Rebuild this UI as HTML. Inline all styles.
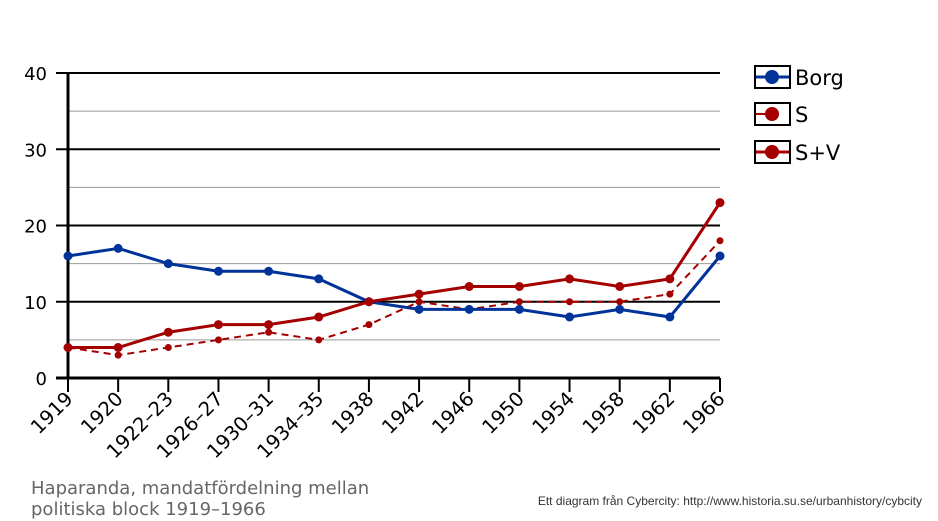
<!DOCTYPE html>
<html><head><meta charset="utf-8"><style>
body{margin:0;background:#fff;}
svg{display:block;font-family:"DejaVu Sans","Liberation Sans",sans-serif;}
</style></head><body>
<svg id="s" width="938" height="521" xmlns="http://www.w3.org/2000/svg"></svg>
<script>
const s=document.getElementById('s');
const x0=68,dx=(720-68)/13,y0=378,k=7.625;
const X=i=>x0+i*dx,Y=v=>y0-v*k;
let h='';
for(const v of [5,15,25,35]) h+=`<line x1="68" x2="720" y1="${Y(v)}" y2="${Y(v)}" stroke="#999" stroke-width="1"/>`;
for(const v of [10,20,30,40]) h+=`<line x1="56" x2="720" y1="${Y(v)}" y2="${Y(v)}" stroke="#000" stroke-width="2"/>`;
h+=`<line x1="56" x2="720" y1="${y0}" y2="${y0}" stroke="#000" stroke-width="3"/>`;
h+=`<line x1="68" x2="68" y1="73" y2="378" stroke="#000" stroke-width="3"/>`;
for(const v of [0,10,20,30,40]) h+=`<text x="47" y="${Y(v)+7}" font-size="18" text-anchor="end">${v}</text>`;
const lab=['1919','1920','1922–23','1926–27','1930–31','1934–35','1938','1942','1946','1950','1954','1958','1962','1966'];
lab.forEach((l,i)=>{const x=X(i);h+=`<line x1="${x}" x2="${x}" y1="378" y2="392" stroke="#000" stroke-width="2"/>`;
h+=`<text transform="translate(${x+6},${400}) rotate(-45)" font-size="19.5" text-anchor="end">${l}</text>`;});
const borg=[16,17,15,14,14,13,10,9,9,9,8,9,8,16],S=[4,3,4,5,6,5,7,10,9,10,10,10,11,18],SV=[4,4,6,7,7,8,10,11,12,12,13,12,13,23];
function ser(d,c,w,r,dash){const p=d.map((v,i)=>X(i)+','+Y(v)).join(' ');
 let o=`<polyline points="${p}" fill="none" stroke="${c}" stroke-width="${w}" ${dash?'stroke-dasharray="7,5"':''}/>`;
 d.forEach((v,i)=>o+=`<circle cx="${X(i)}" cy="${Y(v)}" r="${r}" fill="${c}"/>`);return o;}
h+=ser(S,'#a40000',2,3.5,true);
h+=ser(borg,'#003399',3,4.5,false);
h+=ser(SV,'#a40000',3,4.5,false);
function leg(y,c,w,t,half){h+=`<rect x="755" y="${y-11}" width="35" height="22" fill="#fff" stroke="#000" stroke-width="2"/>`;
 h+=`<line x1="756" x2="${half?772:789}" y1="${y}" y2="${y}" stroke="${c}" stroke-width="${w}"/><circle cx="772" cy="${y}" r="7" fill="${c}"/>`;
 h+=`<text x="795" y="${y+8}" font-size="21">${t}</text>`;}
leg(77,'#003399',3,'Borg');leg(114,'#a40000',2,'S',true);leg(152,'#a40000',3,'S+V');
h+=`<text x="31" y="494" font-size="18" fill="#666">Haparanda, mandatfördelning  mellan</text>`;
h+=`<text x="31" y="515" font-size="18" fill="#666">politiska block 1919–1966</text>`;
h+=`<text x="922" y="505" font-size="12" fill="#333" text-anchor="end" font-family="Liberation Sans">Ett diagram från Cybercity: http://www.historia.su.se/urbanhistory/cybcity</text>`;
s.innerHTML=h;
</script>
</body></html>
